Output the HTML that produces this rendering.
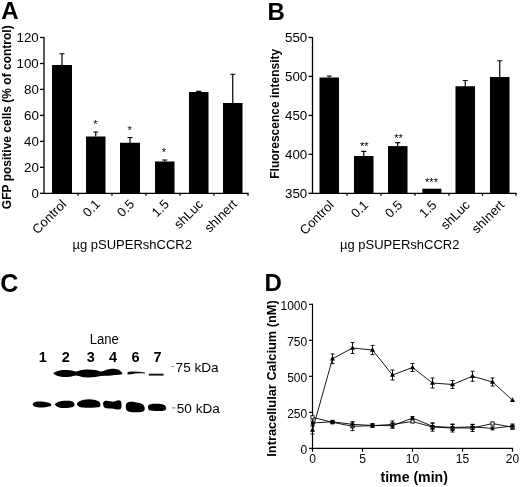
<!DOCTYPE html>
<html lang="en"><head><meta charset="utf-8"><title>Figure</title>
<style>html,body{margin:0;padding:0;background:#fff}svg{display:block}text{font-family:"Liberation Sans", Arial, sans-serif;fill:#000}</style></head><body>
<svg width="520" height="487" viewBox="0 0 520 487">
<rect width="520" height="487" fill="#fff"/>
<text x="1.2" y="19.4" font-size="24" font-weight="bold">A</text>
<path d="M44 36.9V193.3H248.6" fill="none" stroke="#000" stroke-width="1.3"/>
<path d="M40 37.5H44" stroke="#000" stroke-width="1.3"/>
<text x="38.8" y="42.4" font-size="13.33" text-anchor="end">120</text>
<path d="M40 63.5H44" stroke="#000" stroke-width="1.3"/>
<text x="38.8" y="68.4" font-size="13.33" text-anchor="end">100</text>
<path d="M40 89.4H44" stroke="#000" stroke-width="1.3"/>
<text x="38.8" y="94.30000000000001" font-size="13.33" text-anchor="end">80</text>
<path d="M40 115.4H44" stroke="#000" stroke-width="1.3"/>
<text x="38.8" y="120.30000000000001" font-size="13.33" text-anchor="end">60</text>
<path d="M40 141.4H44" stroke="#000" stroke-width="1.3"/>
<text x="38.8" y="146.3" font-size="13.33" text-anchor="end">40</text>
<path d="M40 167.3H44" stroke="#000" stroke-width="1.3"/>
<text x="38.8" y="172.20000000000002" font-size="13.33" text-anchor="end">20</text>
<path d="M40 193.3H44" stroke="#000" stroke-width="1.3"/>
<text x="38.8" y="198.20000000000002" font-size="13.33" text-anchor="end">0</text>
<path d="M78 193.3V195.8" stroke="#000" stroke-width="1.3"/>
<path d="M112 193.3V195.8" stroke="#000" stroke-width="1.3"/>
<path d="M146 193.3V195.8" stroke="#000" stroke-width="1.3"/>
<path d="M180 193.3V195.8" stroke="#000" stroke-width="1.3"/>
<path d="M214 193.3V195.8" stroke="#000" stroke-width="1.3"/>
<path d="M248 193.3V195.8" stroke="#000" stroke-width="1.3"/>
<rect x="52" y="65" width="20" height="128.3" fill="#000"/>
<path d="M62.0 65V53.75M59.5 53.75H64.5" stroke="#000" stroke-width="1.2" fill="none"/>
<text transform="translate(67.1 205) rotate(-45)" font-size="13" text-anchor="end">Control</text>
<rect x="86" y="136.5" width="19.5" height="56.80000000000001" fill="#000"/>
<path d="M95.75 136.5V132M93.25 132H98.25" stroke="#000" stroke-width="1.2" fill="none"/>
<text transform="translate(100.85 205) rotate(-45)" font-size="13" text-anchor="end">0.1</text>
<rect x="120" y="142.75" width="20" height="50.55000000000001" fill="#000"/>
<path d="M130.0 142.75V137.5M127.5 137.5H132.5" stroke="#000" stroke-width="1.2" fill="none"/>
<text transform="translate(135.1 205) rotate(-45)" font-size="13" text-anchor="end">0.5</text>
<rect x="155" y="161.5" width="19.5" height="31.80000000000001" fill="#000"/>
<path d="M164.75 161.5V160M162.25 160H167.25" stroke="#000" stroke-width="1.2" fill="none"/>
<text transform="translate(169.85 205) rotate(-45)" font-size="13" text-anchor="end">1.5</text>
<rect x="189" y="92" width="19.5" height="101.30000000000001" fill="#000"/>
<path d="M198.75 92V91.3M196.25 91.3H201.25" stroke="#000" stroke-width="1.2" fill="none"/>
<text transform="translate(203.85 205) rotate(-45)" font-size="13" text-anchor="end">shLuc</text>
<rect x="223" y="103" width="19.5" height="90.30000000000001" fill="#000"/>
<path d="M232.75 103V74.25M230.25 74.25H235.25" stroke="#000" stroke-width="1.2" fill="none"/>
<text transform="translate(237.85 205) rotate(-45)" font-size="13" text-anchor="end">shInert</text>
<text x="95.4" y="128.2" font-size="11" text-anchor="middle" fill="#444">*</text>
<text x="129.6" y="134.3" font-size="11" text-anchor="middle" fill="#444">*</text>
<text x="164" y="155.5" font-size="11" text-anchor="middle" fill="#444">*</text>
<text transform="translate(11 117.25) rotate(-90)" font-size="12" font-weight="bold" text-anchor="middle">GFP positive cells (% of control)</text>
<text x="72.5" y="248.5" font-size="13">µg pSUPERshCCR2</text>
<text x="267.5" y="19.5" font-size="24" font-weight="bold">B</text>
<path d="M312.5 36.9V193.3H516.6" fill="none" stroke="#000" stroke-width="1.3"/>
<path d="M308.5 37.5H312.5" stroke="#000" stroke-width="1.3"/>
<text x="307.3" y="42.4" font-size="13.33" text-anchor="end">550</text>
<path d="M308.5 76.4H312.5" stroke="#000" stroke-width="1.3"/>
<text x="307.3" y="81.30000000000001" font-size="13.33" text-anchor="end">500</text>
<path d="M308.5 115.4H312.5" stroke="#000" stroke-width="1.3"/>
<text x="307.3" y="120.30000000000001" font-size="13.33" text-anchor="end">450</text>
<path d="M308.5 154.3H312.5" stroke="#000" stroke-width="1.3"/>
<text x="307.3" y="159.20000000000002" font-size="13.33" text-anchor="end">400</text>
<path d="M308.5 193.3H312.5" stroke="#000" stroke-width="1.3"/>
<text x="307.3" y="198.20000000000002" font-size="13.33" text-anchor="end">350</text>
<path d="M347 193.3V195.8" stroke="#000" stroke-width="1.3"/>
<path d="M381 193.3V195.8" stroke="#000" stroke-width="1.3"/>
<path d="M415 193.3V195.8" stroke="#000" stroke-width="1.3"/>
<path d="M449 193.3V195.8" stroke="#000" stroke-width="1.3"/>
<path d="M482.5 193.3V195.8" stroke="#000" stroke-width="1.3"/>
<path d="M516 193.3V195.8" stroke="#000" stroke-width="1.3"/>
<rect x="319.5" y="77.5" width="19.5" height="115.80000000000001" fill="#000"/>
<path d="M329.25 77.5V76M326.75 76H331.75" stroke="#000" stroke-width="1.2" fill="none"/>
<text transform="translate(334.65 205.8) rotate(-45)" font-size="13" text-anchor="end">Control</text>
<rect x="354" y="156" width="19.5" height="37.30000000000001" fill="#000"/>
<path d="M363.75 156V151.3M361.25 151.3H366.25" stroke="#000" stroke-width="1.2" fill="none"/>
<text transform="translate(369.15 205.8) rotate(-45)" font-size="13" text-anchor="end">0.1</text>
<rect x="388" y="146.1" width="19.5" height="47.20000000000002" fill="#000"/>
<path d="M397.75 146.1V142.7M395.25 142.7H400.25" stroke="#000" stroke-width="1.2" fill="none"/>
<text transform="translate(403.15 205.8) rotate(-45)" font-size="13" text-anchor="end">0.5</text>
<rect x="422.3" y="188.7" width="19.099999999999966" height="4.600000000000023" fill="#000"/>
<text transform="translate(437.25 205.8) rotate(-45)" font-size="13" text-anchor="end">1.5</text>
<rect x="455.5" y="86.25" width="19.5" height="107.05000000000001" fill="#000"/>
<path d="M465.25 86.25V80.5M462.75 80.5H467.75" stroke="#000" stroke-width="1.2" fill="none"/>
<text transform="translate(470.65 205.8) rotate(-45)" font-size="13" text-anchor="end">shLuc</text>
<rect x="490" y="77" width="19.5" height="116.30000000000001" fill="#000"/>
<path d="M499.75 77V60.75M497.25 60.75H502.25" stroke="#000" stroke-width="1.2" fill="none"/>
<text transform="translate(505.15 205.8) rotate(-45)" font-size="13" text-anchor="end">shInert</text>
<text x="364.2" y="149.7" font-size="11" text-anchor="middle" fill="#444">**</text>
<text x="398.5" y="142" font-size="11" text-anchor="middle" fill="#444">**</text>
<text x="431.5" y="186.4" font-size="11" text-anchor="middle" fill="#444">***</text>
<text transform="translate(278.75 113.75) rotate(-90)" font-size="12" font-weight="bold" text-anchor="middle">Fluorescence intensity</text>
<text x="340" y="248.5" font-size="13">µg pSUPERshCCR2</text>
<text x="0.3" y="292" font-size="25" font-weight="bold">C</text>
<text x="89.7" y="343.7" font-size="14" textLength="29.1" lengthAdjust="spacingAndGlyphs">Lane</text>
<text x="42.7" y="361.8" font-size="14.5" font-weight="bold" text-anchor="middle">1</text>
<text x="65.7" y="361.8" font-size="14.5" font-weight="bold" text-anchor="middle">2</text>
<text x="90.8" y="361.8" font-size="14.5" font-weight="bold" text-anchor="middle">3</text>
<text x="113" y="361.8" font-size="14.5" font-weight="bold" text-anchor="middle">4</text>
<text x="135.5" y="361.8" font-size="14.5" font-weight="bold" text-anchor="middle">6</text>
<text x="157.5" y="361.8" font-size="14.5" font-weight="bold" text-anchor="middle">7</text>
<path d="M53.4 373.2C53.4 372.4 56.1 371.4 58.0 370.9C59.9 370.4 62.8 370.2 65.0 370.1C67.2 370.0 69.7 370.3 71.5 370.5C73.3 370.7 74.2 371.6 76.0 371.5C77.8 371.4 80.0 370.3 82.0 370.0C84.0 369.7 85.8 369.6 88.0 369.6C90.2 369.6 92.8 369.8 95.0 370.1C97.2 370.4 99.2 371.4 101.0 371.4C102.8 371.4 104.2 370.3 106.0 369.9C107.8 369.4 110.0 368.8 112.0 368.7C114.0 368.6 116.4 369.0 118.0 369.6C119.6 370.2 120.9 371.6 121.6 372.2C122.3 372.8 122.5 373.0 122.3 373.4C122.1 373.8 121.7 374.3 120.5 374.6C119.3 374.9 117.1 374.9 115.0 375.1C112.9 375.3 110.3 375.7 108.0 375.8C105.7 375.9 103.2 375.8 101.0 376.0C98.8 376.2 97.2 376.9 95.0 377.1C92.8 377.3 90.2 377.4 88.0 377.4C85.8 377.4 84.0 377.2 82.0 376.9C80.0 376.6 78.0 375.5 76.0 375.5C74.0 375.5 72.0 376.4 70.0 376.7C68.0 376.9 66.0 377.1 64.0 377.0C62.0 376.9 59.8 376.5 58.0 375.9C56.2 375.3 53.4 374.0 53.4 373.2Z" fill="#000"/>
<path d="M127.6 372L131 371.6Q137 371.3 145 372.4L145 373.6Q137 372.8 131.5 374.3L127.6 374.6Z" fill="#111"/>
<path d="M148.8 373.7H163.6V375.6H148.8Z" fill="#111"/>
<path d="M32.7 404.3C32.7 403.6 33.5 402.8 34.5 402.3C35.5 401.8 37.4 401.6 39.0 401.5C40.6 401.4 42.4 401.6 44.0 401.8C45.6 402.0 47.3 402.4 48.5 402.8C49.7 403.2 51.0 403.9 51.2 404.5C51.5 405.1 51.0 405.9 50.0 406.3C49.0 406.8 46.8 407.0 45.0 407.2C43.2 407.4 40.8 407.5 39.0 407.4C37.2 407.3 35.5 407.1 34.5 406.6C33.5 406.1 32.7 405.0 32.7 404.3Z" fill="#000"/>
<path d="M55.0 404.5C54.9 403.7 56.3 402.9 57.5 402.3C58.7 401.7 60.2 401.2 62.0 401.0C63.8 400.8 66.2 400.7 68.0 400.8C69.8 400.9 71.4 401.1 72.5 401.6C73.6 402.1 74.3 403.2 74.5 404.0C74.7 404.8 74.4 406.0 73.5 406.6C72.6 407.2 70.8 407.6 69.0 407.8C67.2 408.0 64.8 408.1 63.0 408.0C61.2 407.9 59.3 407.6 58.0 407.0C56.7 406.4 55.1 405.3 55.0 404.5Z" fill="#000"/>
<path d="M77.0 404.0C77.1 403.2 77.8 402.2 79.0 401.5C80.2 400.8 82.3 400.2 84.0 399.8C85.7 399.4 87.3 399.2 89.0 399.2C90.7 399.2 92.4 399.4 94.0 399.8C95.6 400.2 97.5 400.7 98.5 401.3C99.5 401.9 100.0 402.6 100.3 403.5C100.5 404.4 100.7 405.8 100.0 406.5C99.3 407.2 97.8 407.3 96.0 407.5C94.2 407.7 91.3 407.7 89.0 407.7C86.7 407.7 83.8 407.7 82.0 407.5C80.2 407.3 79.3 406.9 78.5 406.3C77.7 405.7 76.9 404.8 77.0 404.0Z" fill="#000"/>
<path d="M103.3 402.5C103.6 401.8 103.9 401.1 105.0 400.9C106.1 400.7 108.5 401.1 110.0 401.2C111.5 401.3 112.7 401.8 114.0 401.6C115.3 401.5 116.9 400.4 118.0 400.3C119.1 400.2 120.2 400.3 120.8 401.0C121.4 401.7 121.5 403.2 121.5 404.5C121.5 405.8 121.6 407.7 121.0 408.5C120.4 409.3 119.3 409.5 118.0 409.5C116.7 409.5 114.7 408.9 113.0 408.7C111.3 408.5 109.4 408.7 108.0 408.5C106.6 408.3 105.3 408.1 104.5 407.5C103.7 406.9 103.4 405.8 103.2 405.0C103.0 404.2 103.0 403.2 103.3 402.5Z" fill="#000"/>
<path d="M125.8 406.0C125.8 404.9 126.0 404.2 126.5 403.5C127.0 402.8 127.9 402.3 129.0 402.0C130.1 401.7 131.5 401.7 133.0 401.8C134.5 401.9 136.4 402.4 138.0 402.8C139.6 403.2 141.4 403.5 142.5 404.2C143.6 404.9 144.2 405.9 144.5 407.0C144.8 408.1 144.9 409.7 144.3 410.5C143.7 411.3 142.6 411.7 141.0 412.0C139.4 412.3 136.9 412.3 135.0 412.3C133.1 412.3 130.9 412.2 129.5 411.8C128.1 411.4 127.1 411.0 126.5 410.0C125.9 409.0 125.8 407.1 125.8 406.0Z" fill="#000"/>
<path d="M148.0 407.0C148.0 406.2 148.2 405.3 149.0 404.8C149.8 404.3 151.5 404.0 153.0 403.8C154.5 403.6 156.3 403.7 158.0 403.8C159.7 403.9 161.7 404.1 163.0 404.5C164.3 404.9 165.3 405.7 165.8 406.5C166.3 407.3 166.4 408.6 166.0 409.3C165.6 410.0 164.8 410.5 163.5 410.8C162.2 411.1 159.9 411.0 158.0 411.0C156.1 411.0 153.5 411.0 152.0 410.8C150.5 410.6 149.5 410.4 148.8 409.8C148.1 409.2 148.0 407.8 148.0 407.0Z" fill="#000"/>
<path d="M170.8 366.5H174.6M171.8 407.8H175.5" stroke="#999" stroke-width="1.2"/>
<text x="175.6" y="371.6" font-size="13.6">75 kDa</text>
<text x="176.8" y="412.5" font-size="13.6">50 kDa</text>
<text x="264.4" y="291.3" font-size="24" font-weight="bold">D</text>
<path d="M312.5 303.7V448.3H513.1" fill="none" stroke="#000" stroke-width="1.2"/>
<path d="M309.0 448.3H312.5" stroke="#000" stroke-width="1.2"/>
<text x="307.2" y="454.40000000000003" font-size="12" text-anchor="end">0</text>
<path d="M309.0 412.3H312.5" stroke="#000" stroke-width="1.2"/>
<text x="307.2" y="418.40000000000003" font-size="12" text-anchor="end">250</text>
<path d="M309.0 376.3H312.5" stroke="#000" stroke-width="1.2"/>
<text x="307.2" y="382.40000000000003" font-size="12" text-anchor="end">500</text>
<path d="M309.0 340.3H312.5" stroke="#000" stroke-width="1.2"/>
<text x="307.2" y="346.40000000000003" font-size="12" text-anchor="end">750</text>
<path d="M309.0 304.3H312.5" stroke="#000" stroke-width="1.2"/>
<text x="307.2" y="310.40000000000003" font-size="12" text-anchor="end">1000</text>
<path d="M312.5 448.3V451.8" stroke="#000" stroke-width="1.2"/>
<text x="312.5" y="463.4" font-size="12" text-anchor="middle">0</text>
<path d="M362.5 448.3V451.8" stroke="#000" stroke-width="1.2"/>
<text x="362.5" y="463.4" font-size="12" text-anchor="middle">5</text>
<path d="M412.5 448.3V451.8" stroke="#000" stroke-width="1.2"/>
<text x="412.5" y="463.4" font-size="12" text-anchor="middle">10</text>
<path d="M462.5 448.3V451.8" stroke="#000" stroke-width="1.2"/>
<text x="462.5" y="463.4" font-size="12" text-anchor="middle">15</text>
<path d="M512.5 448.3V451.8" stroke="#000" stroke-width="1.2"/>
<text x="512.5" y="463.4" font-size="12" text-anchor="middle">20</text>
<text x="414.2" y="482" font-size="14.1" font-weight="bold" text-anchor="middle">time (min)</text>
<text transform="translate(276.3 378.5) rotate(-90)" font-size="12.8" font-weight="bold" text-anchor="middle">Intracellular Calcium (nM)</text>
<polyline points="312.5,430 332.5,358.75 352.5,348 372.5,350 392.5,375 412.5,367.5 432.5,383 452.5,384.5 472.5,376.25 492.5,382 512.5,400.2" fill="none" stroke="#000" stroke-width="0.9"/>
<path d="M312.5 426V434M310.5 426H314.5M310.5 434H314.5" stroke="#000" stroke-width="0.9" fill="none"/>
<path d="M312.5 427.1L315.0 431.8H310.0Z" fill="#000"/>
<path d="M332.5 353.95V363.55M330.5 353.95H334.5M330.5 363.55H334.5" stroke="#000" stroke-width="0.9" fill="none"/>
<path d="M332.5 355.85L335.0 360.55H330.0Z" fill="#000"/>
<path d="M352.5 342.5V353.5M350.5 342.5H354.5M350.5 353.5H354.5" stroke="#000" stroke-width="0.9" fill="none"/>
<path d="M352.5 345.1L355.0 349.8H350.0Z" fill="#000"/>
<path d="M372.5 345.4V354.6M370.5 345.4H374.5M370.5 354.6H374.5" stroke="#000" stroke-width="0.9" fill="none"/>
<path d="M372.5 347.1L375.0 351.8H370.0Z" fill="#000"/>
<path d="M392.5 370V380M390.5 370H394.5M390.5 380H394.5" stroke="#000" stroke-width="0.9" fill="none"/>
<path d="M392.5 372.1L395.0 376.8H390.0Z" fill="#000"/>
<path d="M412.5 363.5V371.5M410.5 363.5H414.5M410.5 371.5H414.5" stroke="#000" stroke-width="0.9" fill="none"/>
<path d="M412.5 364.6L415.0 369.3H410.0Z" fill="#000"/>
<path d="M432.5 378V388M430.5 378H434.5M430.5 388H434.5" stroke="#000" stroke-width="0.9" fill="none"/>
<path d="M432.5 380.1L435.0 384.8H430.0Z" fill="#000"/>
<path d="M452.5 380.5V388.5M450.5 380.5H454.5M450.5 388.5H454.5" stroke="#000" stroke-width="0.9" fill="none"/>
<path d="M452.5 381.6L455.0 386.3H450.0Z" fill="#000"/>
<path d="M472.5 371.25V381.25M470.5 371.25H474.5M470.5 381.25H474.5" stroke="#000" stroke-width="0.9" fill="none"/>
<path d="M472.5 373.35L475.0 378.05H470.0Z" fill="#000"/>
<path d="M492.5 378V386M490.5 378H494.5M490.5 386H494.5" stroke="#000" stroke-width="0.9" fill="none"/>
<path d="M492.5 379.1L495.0 383.8H490.0Z" fill="#000"/>
<path d="M512.5 397.3L515.0 402.0H510.0Z" fill="#000"/>
<polyline points="312.5,417.3 332.5,422.3 352.5,426.3 372.5,425.7 392.5,424.4 412.5,421.5 432.5,427 452.5,428 472.5,428 492.5,423.5 512.5,427.3" fill="none" stroke="#000" stroke-width="0.9"/>
<rect x="310.9" y="415.7" width="3.2" height="3.2" fill="#fff" stroke="#000" stroke-width="0.9"/>
<rect x="330.9" y="420.7" width="3.2" height="3.2" fill="#fff" stroke="#000" stroke-width="0.9"/>
<path d="M352.5 422.0V430.6M350.5 422.0H354.5M350.5 430.6H354.5" stroke="#000" stroke-width="0.9" fill="none"/>
<rect x="350.9" y="424.7" width="3.2" height="3.2" fill="#fff" stroke="#000" stroke-width="0.9"/>
<rect x="370.9" y="424.09999999999997" width="3.2" height="3.2" fill="#fff" stroke="#000" stroke-width="0.9"/>
<path d="M392.5 420.9V427.9M390.5 420.9H394.5M390.5 427.9H394.5" stroke="#000" stroke-width="0.9" fill="none"/>
<rect x="390.9" y="422.79999999999995" width="3.2" height="3.2" fill="#fff" stroke="#000" stroke-width="0.9"/>
<rect x="410.9" y="419.9" width="3.2" height="3.2" fill="#fff" stroke="#000" stroke-width="0.9"/>
<path d="M432.5 422.8V431.2M430.5 422.8H434.5M430.5 431.2H434.5" stroke="#000" stroke-width="0.9" fill="none"/>
<rect x="430.9" y="425.4" width="3.2" height="3.2" fill="#fff" stroke="#000" stroke-width="0.9"/>
<path d="M452.5 424V432M450.5 424H454.5M450.5 432H454.5" stroke="#000" stroke-width="0.9" fill="none"/>
<rect x="450.9" y="426.4" width="3.2" height="3.2" fill="#fff" stroke="#000" stroke-width="0.9"/>
<path d="M472.5 424.5V431.5M470.5 424.5H474.5M470.5 431.5H474.5" stroke="#000" stroke-width="0.9" fill="none"/>
<rect x="470.9" y="426.4" width="3.2" height="3.2" fill="#fff" stroke="#000" stroke-width="0.9"/>
<rect x="490.9" y="421.9" width="3.2" height="3.2" fill="#fff" stroke="#000" stroke-width="0.9"/>
<path d="M512.5 425.3V429.3M510.5 425.3H514.5M510.5 429.3H514.5" stroke="#000" stroke-width="0.9" fill="none"/>
<rect x="510.9" y="425.7" width="3.2" height="3.2" fill="#fff" stroke="#000" stroke-width="0.9"/>
<polyline points="312.5,423 332.5,421.8 352.5,424.3 372.5,425.5 392.5,425.7 412.5,418 432.5,426.3 452.5,427.5 472.5,426.8 492.5,428.4 512.5,426" fill="none" stroke="#000" stroke-width="0.9"/>
<path d="M312.5 421V425M310.5 421H314.5M310.5 425H314.5" stroke="#000" stroke-width="0.9" fill="none"/>
<circle cx="312.5" cy="423" r="1.7" fill="#000"/>
<path d="M332.5 420.3V423.3M330.5 420.3H334.5M330.5 423.3H334.5" stroke="#000" stroke-width="0.9" fill="none"/>
<circle cx="332.5" cy="421.8" r="1.7" fill="#000"/>
<path d="M352.5 421.8V426.8M350.5 421.8H354.5M350.5 426.8H354.5" stroke="#000" stroke-width="0.9" fill="none"/>
<circle cx="352.5" cy="424.3" r="1.7" fill="#000"/>
<path d="M372.5 423.5V427.5M370.5 423.5H374.5M370.5 427.5H374.5" stroke="#000" stroke-width="0.9" fill="none"/>
<circle cx="372.5" cy="425.5" r="1.7" fill="#000"/>
<path d="M392.5 423.2V428.2M390.5 423.2H394.5M390.5 428.2H394.5" stroke="#000" stroke-width="0.9" fill="none"/>
<circle cx="392.5" cy="425.7" r="1.7" fill="#000"/>
<path d="M412.5 416.5V419.5M410.5 416.5H414.5M410.5 419.5H414.5" stroke="#000" stroke-width="0.9" fill="none"/>
<circle cx="412.5" cy="418" r="1.7" fill="#000"/>
<path d="M432.5 423.3V429.3M430.5 423.3H434.5M430.5 429.3H434.5" stroke="#000" stroke-width="0.9" fill="none"/>
<circle cx="432.5" cy="426.3" r="1.7" fill="#000"/>
<path d="M452.5 424.5V430.5M450.5 424.5H454.5M450.5 430.5H454.5" stroke="#000" stroke-width="0.9" fill="none"/>
<circle cx="452.5" cy="427.5" r="1.7" fill="#000"/>
<path d="M472.5 424.3V429.3M470.5 424.3H474.5M470.5 429.3H474.5" stroke="#000" stroke-width="0.9" fill="none"/>
<circle cx="472.5" cy="426.8" r="1.7" fill="#000"/>
<path d="M492.5 426.9V429.9M490.5 426.9H494.5M490.5 429.9H494.5" stroke="#000" stroke-width="0.9" fill="none"/>
<circle cx="492.5" cy="428.4" r="1.7" fill="#000"/>
<path d="M512.5 424V428M510.5 424H514.5M510.5 428H514.5" stroke="#000" stroke-width="0.9" fill="none"/>
<circle cx="512.5" cy="426" r="1.7" fill="#000"/>
</svg></body></html>
